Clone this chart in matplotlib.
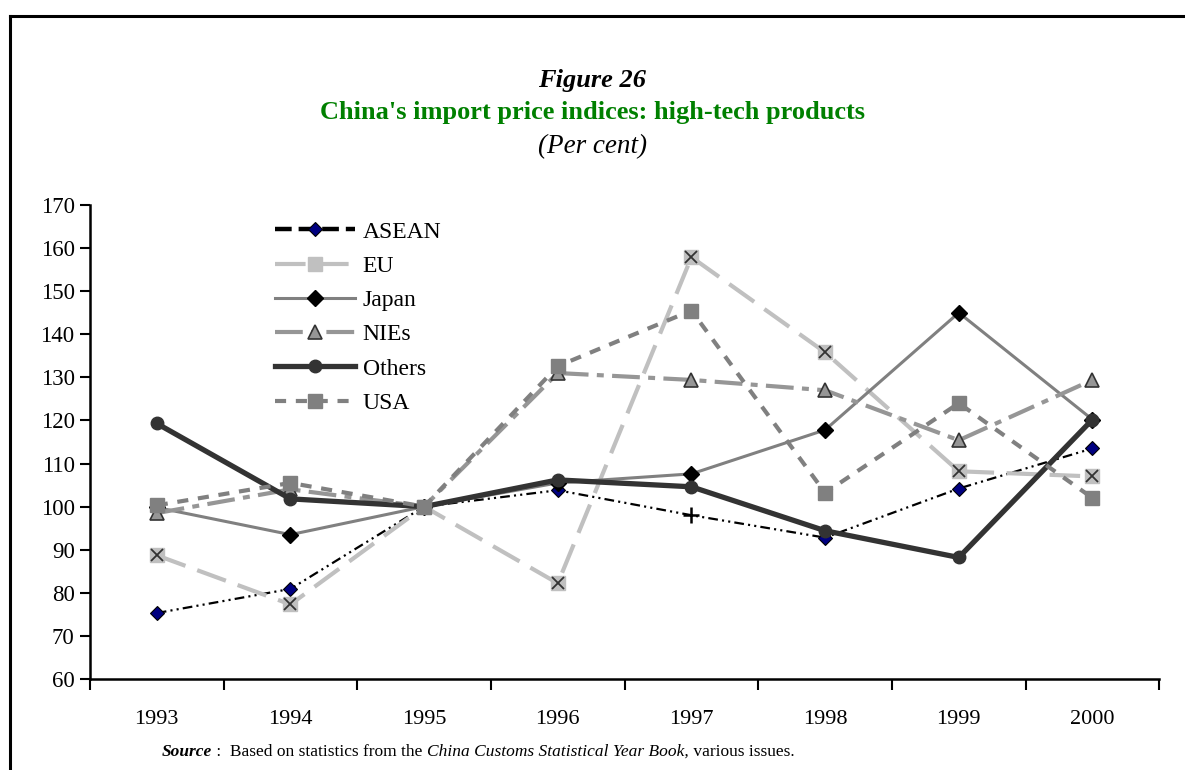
import matplotlib
matplotlib.use('Agg')
import matplotlib.pyplot as plt
from matplotlib.lines import Line2D

years = ['1993', '1994', '1995', '1996', '1997', '1998', '1999', '2000']
asean = [75.3, 80.9, 100, 103.8, 98.0, 92.8, 104.2, 113.5]
eu = [88.7, 77.3, 100, 82.2, 157.9, 135.8, 108.2, 107.0]
japan = [99.8, 93.5, 100, 105.5, 107.6, 117.8, 145.0, 120.2]
nies = [98.5, 104.0, 100, 131.0, 129.4, 127.0, 115.4, 129.4]
others = [119.3, 101.8, 100, 106.2, 104.6, 94.4, 88.2, 120.2]
usa = [100.3, 105.5, 100, 132.6, 145.5, 103.2, 124.0, 102.0]

plt.rcParams['font.family'] = ['Liberation Serif', 'DejaVu Serif']
plt.rcParams['lines.scale_dashes'] = False

fig = plt.figure(figsize=(11.85, 7.7), dpi=100)
ax = fig.add_axes([0.0759, 0.1182, 0.9024, 0.6156])
x = list(range(len(years)))

# series drawn in the same order as the original (later ones on top)
ax.plot(x, asean, color='black', lw=1.6, dashes=(7, 3, 1.5, 3, 1.5, 3),
        marker='D', ms=7, mfc='#000080', mec='black', mew=0.8,
        markevery=[0, 1, 2, 3, 5, 6, 7], label='ASEAN')
ax.plot(x[4], asean[4], marker='+', ms=11, mew=1.8, color='black', ls='none')
ax.plot(x, eu, color='#c0c0c0', lw=3, dashes=(22, 9),
        marker='s', ms=10, mfc='#c0c0c0', mec='#c0c0c0', label='EU')
ax.plot(x, eu, ls='none', marker='x', ms=9, mew=1.3, color='#333333')
ax.plot(x, japan, color='#808080', lw=2.2, marker='D', ms=8,
        mfc='black', mec='black', label='Japan')
ax.plot(x, nies, color='#969696', lw=3, dashes=(20, 6, 5, 6),
        marker='^', ms=10, mfc='#969696', mec='#333333', mew=1.2, label='NIEs')
ax.plot(x, others, color='#333333', lw=3.8, marker='o', ms=9,
        mfc='#333333', mec='#333333', label='Others')
ax.plot(x, usa, color='#808080', lw=3, dashes=(8, 7),
        marker='s', ms=10, mfc='#808080', mec='#808080', label='USA')

ax.set_xlim(-0.5, len(years) - 0.5)
ax.set_ylim(60, 170)
ax.set_yticks(range(60, 171, 10))
ax.set_xticks([i + 0.5 for i in range(-1, len(years))])
ax.set_xticklabels([])
ax.set_xticks(x, minor=True)
ax.set_xticklabels(years, minor=True)
ax.tick_params(axis='x', which='major', direction='out', length=8, width=1.5)
ax.tick_params(axis='x', which='minor', length=0, pad=22, labelsize=16)
ax.tick_params(axis='y', direction='out', length=7, width=1.5, labelsize=16.5, pad=4)
for s in ['top', 'right']:
    ax.spines[s].set_visible(False)
for s in ['left', 'bottom']:
    ax.spines[s].set_linewidth(1.8)

h, l = ax.get_legend_handles_labels()
leg = ax.legend(h, l, loc='upper left', bbox_to_anchor=(0.16, 0.996), frameon=False,
                fontsize=17, handlelength=3.4, handletextpad=0.3, labelspacing=0.54,
                borderaxespad=0.2)
# the ASEAN key is drawn as heavy dashes in the original
leg.get_lines()[0].set_linewidth(3.2)
leg.get_lines()[0].set_dashes((12, 5))

# titles
fig.text(0.5, 1 - 80 / 770, 'Figure 26', ha='center', va='center',
         fontsize=19, fontweight='bold', fontstyle='italic')
fig.text(0.5, 1 - 113 / 770, "China's import price indices: high-tech products",
         ha='center', va='center', fontsize=19, fontweight='bold', color='#008000')
fig.text(0.5, 1 - 147 / 770, '(Per cent)', ha='center', va='center',
         fontsize=19.5, fontstyle='italic')

# source line, pieces placed one after another
pieces = [('Source', 'bold', 'italic'), (' :  Based on statistics from the ', 'normal', 'normal'),
          ('China Customs Statistical Year Book,', 'normal', 'italic'),
          (' various issues.', 'normal', 'normal')]
fig.canvas.draw()
r = fig.canvas.get_renderer()
xpos = 162
for txt, wt, st in pieces:
    t = fig.text(xpos / 1185, 1 - 752 / 770, txt, ha='left', va='center',
                 fontsize=12.5, fontweight=wt, fontstyle=st)
    xpos += t.get_window_extent(r).width

# outer frame
fig.add_artist(Line2D([10 / 1185, 1.0], [1 - 16 / 770, 1 - 16 / 770], color='black', lw=2.2))
fig.add_artist(Line2D([10 / 1185, 10 / 1185], [0, 1 - 16 / 770], color='black', lw=2.2))

fig.savefig('out.png', dpi=100)
